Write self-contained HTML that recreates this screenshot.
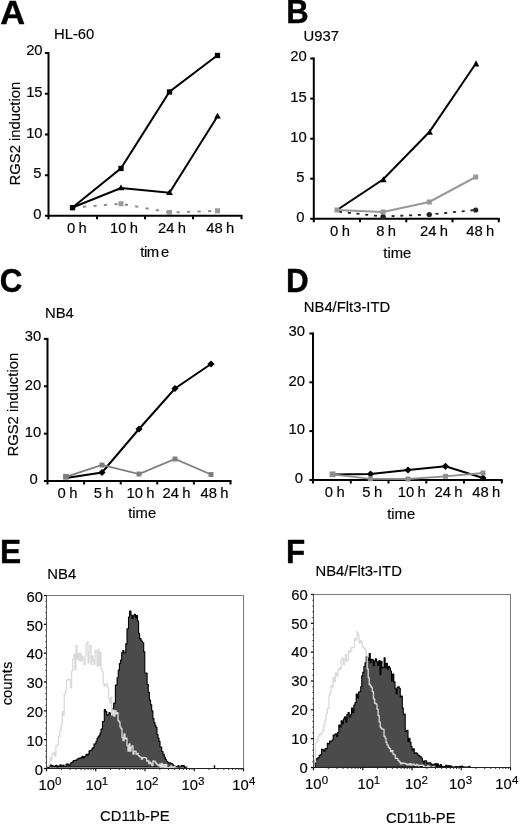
<!DOCTYPE html>
<html><head><meta charset="utf-8"><style>
html,body{margin:0;padding:0;background:#fff;width:520px;height:825px;overflow:hidden}
svg{display:block;font-family:"Liberation Sans",sans-serif;will-change:transform}
</style></head><body>
<svg width="520" height="825" viewBox="0 0 520 825">
<rect width="520" height="825" fill="#fff"/>
<text transform="translate(0.37,23.63) scale(1.03,1)" font-size="33.4" font-weight="bold" stroke="#000" stroke-width="0.4">A</text>
<text transform="translate(54.02,39.30)" font-size="14.8" text-anchor="start" fill="#000" stroke="#000" stroke-width="0.15">HL-60</text>
<line x1="48.50" y1="52.00" x2="48.50" y2="216.75" stroke="#000" stroke-width="2"/>
<line x1="44.90" y1="53.00" x2="48.50" y2="53.00" stroke="#000" stroke-width="2"/>
<text transform="translate(42.60,55.20)" font-size="14.8" text-anchor="end" fill="#000" stroke="#000" stroke-width="0.15">20</text>
<line x1="44.90" y1="93.75" x2="48.50" y2="93.75" stroke="#000" stroke-width="2"/>
<text transform="translate(42.60,96.95)" font-size="14.8" text-anchor="end" fill="#000" stroke="#000" stroke-width="0.15">15</text>
<line x1="44.90" y1="134.50" x2="48.50" y2="134.50" stroke="#000" stroke-width="2"/>
<text transform="translate(42.60,137.70)" font-size="14.8" text-anchor="end" fill="#000" stroke="#000" stroke-width="0.15">10</text>
<line x1="44.90" y1="175.25" x2="48.50" y2="175.25" stroke="#000" stroke-width="2"/>
<text transform="translate(41.60,178.45)" font-size="14.8" text-anchor="end" fill="#000" stroke="#000" stroke-width="0.15">5</text>
<line x1="44.90" y1="215.75" x2="48.50" y2="215.75" stroke="#000" stroke-width="2"/>
<text transform="translate(41.60,218.95)" font-size="14.8" text-anchor="end" fill="#000" stroke="#000" stroke-width="0.15">0</text>
<line x1="47.50" y1="215.75" x2="242.50" y2="215.75" stroke="#000" stroke-width="2"/>
<line x1="48.50" y1="215.75" x2="48.50" y2="219.25" stroke="#000" stroke-width="2"/>
<line x1="97.00" y1="215.75" x2="97.00" y2="219.25" stroke="#000" stroke-width="2"/>
<line x1="145.00" y1="215.75" x2="145.00" y2="219.25" stroke="#000" stroke-width="2"/>
<line x1="193.00" y1="215.75" x2="193.00" y2="219.25" stroke="#000" stroke-width="2"/>
<line x1="241.50" y1="215.75" x2="241.50" y2="219.25" stroke="#000" stroke-width="2"/>
<text transform="translate(76.80,233.00)" font-size="14.8" text-anchor="middle" fill="#000" stroke="#000" stroke-width="0.15" word-spacing="-0.8">0 h</text>
<text transform="translate(124.00,233.00)" font-size="14.8" text-anchor="middle" fill="#000" stroke="#000" stroke-width="0.15" word-spacing="-0.8">10 h</text>
<text transform="translate(171.90,233.00)" font-size="14.8" text-anchor="middle" fill="#000" stroke="#000" stroke-width="0.15" word-spacing="-0.8">24 h</text>
<text transform="translate(220.30,233.00)" font-size="14.8" text-anchor="middle" fill="#000" stroke="#000" stroke-width="0.15" word-spacing="-0.8">48 h</text>
<text transform="translate(154.60,257.30)" font-size="14.8" text-anchor="middle" fill="#000" stroke="#000" stroke-width="0.15" letter-spacing="-0.4" word-spacing="-1.4">tim e</text>
<text transform="translate(20.30,133.60) rotate(-90)" font-size="14.8" text-anchor="middle" fill="#000" stroke="#000" stroke-width="0.15">RGS2 induction</text>
<polyline points="72.50,207.50 121.00,203.75 169.50,212.50 217.50,210.80" fill="none" stroke="#8c8c8c" stroke-width="2" stroke-linejoin="miter" stroke-dasharray="3.2,7.3" stroke-dashoffset="0"/>
<rect x="118.50" y="201.25" width="5" height="5" fill="#999"/>
<rect x="167.00" y="210.00" width="5" height="5" fill="#999"/>
<rect x="215.00" y="208.30" width="5" height="5" fill="#999"/>
<polyline points="72.50,207.50 121.00,168.25 169.50,91.75 217.50,55.25" fill="none" stroke="#000" stroke-width="2" stroke-linejoin="miter"/>
<polyline points="72.50,207.50 121.00,188.00 169.50,192.75 217.50,116.25" fill="none" stroke="#000" stroke-width="2" stroke-linejoin="miter"/>
<rect x="69.85" y="205.05" width="5.3" height="5.3" fill="#000"/>
<rect x="118.35" y="165.80" width="5.3" height="5.3" fill="#000"/>
<rect x="166.85" y="89.30" width="5.3" height="5.3" fill="#000"/>
<rect x="214.85" y="52.80" width="5.3" height="5.3" fill="#000"/>
<polygon points="121.00,184.45 124.40,190.37 117.60,190.37" fill="#000"/>
<polygon points="169.50,189.20 172.90,195.12 166.10,195.12" fill="#000"/>
<polygon points="217.50,112.70 220.90,118.62 214.10,118.62" fill="#000"/>
<text transform="translate(286.13,22.90) scale(0.93,1)" font-size="33.4" font-weight="bold" stroke="#000" stroke-width="0.4">B</text>
<text transform="translate(303.62,41.30)" font-size="14.8" text-anchor="start" fill="#000" stroke="#000" stroke-width="0.15">U937</text>
<line x1="313.80" y1="57.50" x2="313.80" y2="219.80" stroke="#000" stroke-width="2"/>
<line x1="310.20" y1="58.50" x2="313.80" y2="58.50" stroke="#000" stroke-width="2"/>
<text transform="translate(306.80,60.70)" font-size="14.8" text-anchor="end" fill="#000" stroke="#000" stroke-width="0.15">20</text>
<line x1="310.20" y1="98.60" x2="313.80" y2="98.60" stroke="#000" stroke-width="2"/>
<text transform="translate(306.80,101.80)" font-size="14.8" text-anchor="end" fill="#000" stroke="#000" stroke-width="0.15">15</text>
<line x1="310.20" y1="138.70" x2="313.80" y2="138.70" stroke="#000" stroke-width="2"/>
<text transform="translate(306.80,141.90)" font-size="14.8" text-anchor="end" fill="#000" stroke="#000" stroke-width="0.15">10</text>
<line x1="310.20" y1="178.70" x2="313.80" y2="178.70" stroke="#000" stroke-width="2"/>
<text transform="translate(304.40,181.90)" font-size="14.8" text-anchor="end" fill="#000" stroke="#000" stroke-width="0.15">5</text>
<line x1="310.20" y1="218.80" x2="313.80" y2="218.80" stroke="#000" stroke-width="2"/>
<text transform="translate(304.40,222.00)" font-size="14.8" text-anchor="end" fill="#000" stroke="#000" stroke-width="0.15">0</text>
<line x1="312.80" y1="218.80" x2="499.80" y2="218.80" stroke="#000" stroke-width="2"/>
<line x1="313.80" y1="218.80" x2="313.80" y2="222.30" stroke="#000" stroke-width="2"/>
<line x1="360.00" y1="218.80" x2="360.00" y2="222.30" stroke="#000" stroke-width="2"/>
<line x1="406.30" y1="218.80" x2="406.30" y2="222.30" stroke="#000" stroke-width="2"/>
<line x1="452.50" y1="218.80" x2="452.50" y2="222.30" stroke="#000" stroke-width="2"/>
<line x1="498.80" y1="218.80" x2="498.80" y2="222.30" stroke="#000" stroke-width="2"/>
<text transform="translate(340.00,236.00)" font-size="14.8" text-anchor="middle" fill="#000" stroke="#000" stroke-width="0.15" word-spacing="-0.8">0 h</text>
<text transform="translate(386.20,236.00)" font-size="14.8" text-anchor="middle" fill="#000" stroke="#000" stroke-width="0.15" word-spacing="-0.8">8 h</text>
<text transform="translate(434.10,236.00)" font-size="14.8" text-anchor="middle" fill="#000" stroke="#000" stroke-width="0.15" word-spacing="-0.8">24 h</text>
<text transform="translate(480.20,236.00)" font-size="14.8" text-anchor="middle" fill="#000" stroke="#000" stroke-width="0.15" word-spacing="-0.8">48 h</text>
<text transform="translate(397.30,257.50)" font-size="14.8" text-anchor="middle" fill="#000" stroke="#000" stroke-width="0.15">time</text>
<polyline points="337.00,211.50 383.00,216.50 429.30,214.50 475.70,210.00" fill="none" stroke="#222" stroke-width="1.8" stroke-linejoin="miter" stroke-dasharray="3,5.8" stroke-dashoffset="-2"/>
<circle cx="383.00" cy="216.50" r="2.6" fill="#222"/>
<circle cx="429.30" cy="214.50" r="2.6" fill="#222"/>
<circle cx="475.70" cy="210.00" r="2.6" fill="#222"/>
<polyline points="337.00,210.00 383.00,179.50 429.30,132.00 475.70,63.70" fill="none" stroke="#000" stroke-width="2" stroke-linejoin="miter"/>
<polygon points="383.40,176.15 386.60,182.23 380.20,182.23" fill="#000"/>
<polygon points="429.70,128.65 432.90,134.73 426.50,134.73" fill="#000"/>
<polygon points="476.10,60.35 479.30,66.43 472.90,66.43" fill="#000"/>
<polyline points="337.00,210.00 383.00,212.00 429.30,202.00 475.70,177.00" fill="none" stroke="#999" stroke-width="2" stroke-linejoin="miter"/>
<rect x="334.50" y="207.50" width="5" height="5" fill="#999"/>
<rect x="380.50" y="209.50" width="5" height="5" fill="#999"/>
<rect x="426.80" y="199.50" width="5" height="5" fill="#999"/>
<rect x="473.20" y="174.50" width="5" height="5" fill="#999"/>
<text transform="translate(-0.26,292.17) scale(0.94,1)" font-size="33.4" font-weight="bold" stroke="#000" stroke-width="0.4">C</text>
<text transform="translate(45.02,318.00)" font-size="14.8" text-anchor="start" fill="#000" stroke="#000" stroke-width="0.15">NB4</text>
<line x1="47.50" y1="337.90" x2="47.50" y2="482.00" stroke="#000" stroke-width="2"/>
<line x1="43.90" y1="338.90" x2="47.50" y2="338.90" stroke="#000" stroke-width="2"/>
<text transform="translate(41.20,341.10)" font-size="14.8" text-anchor="end" fill="#000" stroke="#000" stroke-width="0.15">30</text>
<line x1="43.90" y1="386.30" x2="47.50" y2="386.30" stroke="#000" stroke-width="2"/>
<text transform="translate(41.20,389.50)" font-size="14.8" text-anchor="end" fill="#000" stroke="#000" stroke-width="0.15">20</text>
<line x1="43.90" y1="433.70" x2="47.50" y2="433.70" stroke="#000" stroke-width="2"/>
<text transform="translate(41.20,436.90)" font-size="14.8" text-anchor="end" fill="#000" stroke="#000" stroke-width="0.15">10</text>
<line x1="43.90" y1="481.00" x2="47.50" y2="481.00" stroke="#000" stroke-width="2"/>
<text transform="translate(37.80,484.20)" font-size="14.8" text-anchor="end" fill="#000" stroke="#000" stroke-width="0.15">0</text>
<line x1="46.50" y1="481.00" x2="231.50" y2="481.00" stroke="#000" stroke-width="2"/>
<line x1="47.50" y1="481.00" x2="47.50" y2="484.50" stroke="#000" stroke-width="2"/>
<line x1="84.10" y1="481.00" x2="84.10" y2="484.50" stroke="#000" stroke-width="2"/>
<line x1="120.70" y1="481.00" x2="120.70" y2="484.50" stroke="#000" stroke-width="2"/>
<line x1="157.30" y1="481.00" x2="157.30" y2="484.50" stroke="#000" stroke-width="2"/>
<line x1="193.90" y1="481.00" x2="193.90" y2="484.50" stroke="#000" stroke-width="2"/>
<line x1="230.50" y1="481.00" x2="230.50" y2="484.50" stroke="#000" stroke-width="2"/>
<text transform="translate(67.50,497.80)" font-size="14.8" text-anchor="middle" fill="#000" stroke="#000" stroke-width="0.15" word-spacing="-0.8">0 h</text>
<text transform="translate(103.70,497.80)" font-size="14.8" text-anchor="middle" fill="#000" stroke="#000" stroke-width="0.15" word-spacing="-0.8">5 h</text>
<text transform="translate(140.50,497.80)" font-size="14.8" text-anchor="middle" fill="#000" stroke="#000" stroke-width="0.15" word-spacing="-0.8">10 h</text>
<text transform="translate(176.60,497.80)" font-size="14.8" text-anchor="middle" fill="#000" stroke="#000" stroke-width="0.15" word-spacing="-0.8">24 h</text>
<text transform="translate(214.40,497.80)" font-size="14.8" text-anchor="middle" fill="#000" stroke="#000" stroke-width="0.15" word-spacing="-0.8">48 h</text>
<text transform="translate(142.20,517.50)" font-size="14.8" text-anchor="middle" fill="#000" stroke="#000" stroke-width="0.15">time</text>
<text transform="translate(17.50,404.70) rotate(-90)" font-size="14.8" text-anchor="middle" fill="#000" stroke="#000" stroke-width="0.15">RGS2 induction</text>
<polyline points="66.00,478.00 102.00,472.50 139.00,429.00 175.00,388.50 211.00,364.00" fill="none" stroke="#000" stroke-width="2" stroke-linejoin="miter"/>
<polygon points="102.00,468.90 105.60,472.50 102.00,476.10 98.40,472.50" fill="#000"/>
<polygon points="139.00,425.40 142.60,429.00 139.00,432.60 135.40,429.00" fill="#000"/>
<polygon points="175.00,384.90 178.60,388.50 175.00,392.10 171.40,388.50" fill="#000"/>
<polygon points="211.00,360.40 214.60,364.00 211.00,367.60 207.40,364.00" fill="#000"/>
<polyline points="66.00,476.80 102.00,465.00 139.00,474.00 175.00,459.00 211.00,474.50" fill="none" stroke="#7d7d7d" stroke-width="1.8" stroke-linejoin="miter"/>
<rect x="63.10" y="473.90" width="5.8" height="5.8" fill="#7d7d7d"/>
<rect x="99.55" y="462.55" width="4.9" height="4.9" fill="#7d7d7d"/>
<rect x="136.55" y="471.55" width="4.9" height="4.9" fill="#7d7d7d"/>
<rect x="172.55" y="456.55" width="4.9" height="4.9" fill="#7d7d7d"/>
<rect x="208.55" y="472.05" width="4.9" height="4.9" fill="#7d7d7d"/>
<text transform="translate(286.10,291.60) scale(0.94,1)" font-size="33.4" font-weight="bold" stroke="#000" stroke-width="0.4">D</text>
<text transform="translate(303.82,312.00)" font-size="14.8" text-anchor="start" fill="#000" stroke="#000" stroke-width="0.15">NB4/Flt3-ITD</text>
<line x1="313.00" y1="332.50" x2="313.00" y2="481.00" stroke="#000" stroke-width="2"/>
<line x1="309.40" y1="333.50" x2="313.00" y2="333.50" stroke="#000" stroke-width="2"/>
<text transform="translate(305.00,335.70)" font-size="14.8" text-anchor="end" fill="#000" stroke="#000" stroke-width="0.15">30</text>
<line x1="309.40" y1="382.30" x2="313.00" y2="382.30" stroke="#000" stroke-width="2"/>
<text transform="translate(305.00,385.50)" font-size="14.8" text-anchor="end" fill="#000" stroke="#000" stroke-width="0.15">20</text>
<line x1="309.40" y1="431.10" x2="313.00" y2="431.10" stroke="#000" stroke-width="2"/>
<text transform="translate(305.00,434.30)" font-size="14.8" text-anchor="end" fill="#000" stroke="#000" stroke-width="0.15">10</text>
<line x1="309.40" y1="480.00" x2="313.00" y2="480.00" stroke="#000" stroke-width="2"/>
<text transform="translate(302.90,483.20)" font-size="14.8" text-anchor="end" fill="#000" stroke="#000" stroke-width="0.15">0</text>
<line x1="312.00" y1="480.00" x2="502.80" y2="480.00" stroke="#000" stroke-width="2"/>
<line x1="313.00" y1="480.00" x2="313.00" y2="483.50" stroke="#000" stroke-width="2"/>
<line x1="350.80" y1="480.00" x2="350.80" y2="483.50" stroke="#000" stroke-width="2"/>
<line x1="388.50" y1="480.00" x2="388.50" y2="483.50" stroke="#000" stroke-width="2"/>
<line x1="426.30" y1="480.00" x2="426.30" y2="483.50" stroke="#000" stroke-width="2"/>
<line x1="464.00" y1="480.00" x2="464.00" y2="483.50" stroke="#000" stroke-width="2"/>
<line x1="501.80" y1="480.00" x2="501.80" y2="483.50" stroke="#000" stroke-width="2"/>
<text transform="translate(334.75,497.00)" font-size="14.8" text-anchor="middle" fill="#000" stroke="#000" stroke-width="0.15" word-spacing="-0.8">0 h</text>
<text transform="translate(372.25,497.00)" font-size="14.8" text-anchor="middle" fill="#000" stroke="#000" stroke-width="0.15" word-spacing="-0.8">5 h</text>
<text transform="translate(411.75,497.00)" font-size="14.8" text-anchor="middle" fill="#000" stroke="#000" stroke-width="0.15" word-spacing="-0.8">10 h</text>
<text transform="translate(448.50,497.00)" font-size="14.8" text-anchor="middle" fill="#000" stroke="#000" stroke-width="0.15" word-spacing="-0.8">24 h</text>
<text transform="translate(486.25,497.00)" font-size="14.8" text-anchor="middle" fill="#000" stroke="#000" stroke-width="0.15" word-spacing="-0.8">48 h</text>
<text transform="translate(401.20,518.70)" font-size="14.8" text-anchor="middle" fill="#000" stroke="#000" stroke-width="0.15">time</text>
<polyline points="332.50,474.50 370.50,474.00 408.00,470.00 445.50,466.30 483.00,478.00" fill="none" stroke="#000" stroke-width="2" stroke-linejoin="miter"/>
<polygon points="370.50,470.40 374.10,474.00 370.50,477.60 366.90,474.00" fill="#000"/>
<polygon points="408.00,466.40 411.60,470.00 408.00,473.60 404.40,470.00" fill="#000"/>
<polygon points="445.50,462.70 449.10,466.30 445.50,469.90 441.90,466.30" fill="#000"/>
<polygon points="483.00,474.40 486.60,478.00 483.00,481.60 479.40,478.00" fill="#000"/>
<polyline points="332.50,474.30 370.50,478.80 408.00,479.00 445.50,476.30 483.00,473.00" fill="none" stroke="#8e8e8e" stroke-width="1.8" stroke-linejoin="miter"/>
<rect x="329.60" y="471.40" width="5.8" height="5.8" fill="#8e8e8e"/>
<rect x="368.05" y="476.35" width="4.9" height="4.9" fill="#8e8e8e"/>
<rect x="405.55" y="476.55" width="4.9" height="4.9" fill="#8e8e8e"/>
<rect x="443.05" y="473.85" width="4.9" height="4.9" fill="#8e8e8e"/>
<rect x="480.55" y="470.55" width="4.9" height="4.9" fill="#8e8e8e"/>
<polygon points="47.00,767.05 48.00,767.05 48.00,767.40 49.00,767.40 49.00,765.69 50.00,765.69 50.00,764.61 51.00,764.61 51.00,765.49 52.00,765.49 52.00,765.62 53.00,765.62 53.00,766.39 54.00,766.39 54.00,767.00 55.00,767.00 55.00,765.44 56.00,765.44 56.00,765.19 57.00,765.19 57.00,767.21 58.00,767.21 58.00,766.08 59.00,766.08 59.00,766.85 60.00,766.85 60.00,764.79 61.00,764.79 61.00,765.86 62.00,765.86 62.00,766.48 63.00,766.48 63.00,765.09 64.00,765.09 64.00,766.86 65.00,766.86 65.00,766.64 66.00,766.64 66.00,764.28 67.00,764.28 67.00,763.89 68.00,763.89 68.00,764.86 69.00,764.86 69.00,765.52 70.00,765.52 70.00,763.69 71.00,763.69 71.00,762.56 72.00,762.56 72.00,762.40 73.00,762.40 73.00,760.68 74.00,760.68 74.00,760.48 75.00,760.48 75.00,760.34 76.00,760.34 76.00,760.09 77.00,760.09 77.00,759.01 78.00,759.01 78.00,758.60 79.00,758.60 79.00,758.17 80.00,758.17 80.00,758.39 81.00,758.39 81.00,757.45 82.00,757.45 82.00,756.26 83.00,756.26 83.00,757.88 84.00,757.88 84.00,756.65 85.00,756.65 85.00,756.37 86.00,756.37 86.00,754.18 87.00,754.18 87.00,755.31 88.00,755.31 88.00,753.99 89.00,753.99 89.00,750.92 90.00,750.92 90.00,750.51 91.00,750.51 91.00,750.01 92.00,750.01 92.00,748.34 93.00,748.34 93.00,747.45 94.00,747.45 94.00,743.98 95.00,743.98 95.00,743.68 96.00,743.68 96.00,741.38 97.00,741.38 97.00,738.25 98.00,738.25 98.00,736.85 99.00,736.85 99.00,735.57 100.00,735.57 100.00,732.97 101.00,732.97 101.00,729.02 102.50,729.02 102.50,721.43 104.30,721.43 104.30,709.55 105.53,709.55 105.53,711.66 106.77,711.66 106.77,715.54 108.00,715.54 108.00,714.56 109.00,714.56 109.00,712.56 110.00,712.56 110.00,713.75 111.00,713.75 111.00,713.81 112.00,713.81 112.00,712.92 113.00,712.92 113.00,708.32 113.70,708.32 113.70,703.16 115.40,703.16 115.40,685.05 117.10,685.05 117.10,677.68 118.25,677.68 118.25,670.15 119.40,670.15 119.40,663.44 120.55,663.44 120.55,660.12 121.70,660.12 121.70,652.71 122.85,652.71 122.85,650.43 124.00,650.43 124.00,653.04 125.80,653.04 125.80,643.83 127.00,643.83 127.00,628.77 128.50,628.77 128.50,617.09 129.50,617.09 129.50,611.13 131.00,611.13 131.00,615.02 132.00,615.02 132.00,618.44 133.00,618.44 133.00,615.86 134.25,615.86 134.25,614.34 135.50,614.34 135.50,617.63 136.50,617.63 136.50,615.45 137.50,615.45 137.50,621.12 138.55,621.12 138.55,633.23 139.60,633.23 139.60,638.62 141.05,638.62 141.05,640.98 142.50,640.98 142.50,642.80 143.70,642.80 143.70,651.86 144.80,651.86 144.80,673.18 145.95,673.18 145.95,673.03 147.10,673.03 147.10,684.54 148.25,684.54 148.25,692.19 149.40,692.19 149.40,699.97 150.55,699.97 150.55,704.81 151.70,704.81 151.70,710.87 152.90,710.87 152.90,718.59 153.95,718.59 153.95,722.54 155.00,722.54 155.00,725.66 156.00,725.66 156.00,727.56 157.00,727.56 157.00,734.54 158.00,734.54 158.00,737.94 159.00,737.94 159.00,741.26 160.00,741.26 160.00,747.02 161.70,747.02 161.70,751.46 163.00,751.46 163.00,754.23 164.30,754.23 164.30,757.30 165.40,757.30 165.40,759.45 166.50,759.45 166.50,761.32 167.53,761.32 167.53,762.29 168.57,762.29 168.57,762.89 169.60,762.89 169.60,762.77 170.68,762.77 170.68,763.60 171.76,763.60 171.76,763.76 172.84,763.76 172.84,765.12 173.92,765.12 173.92,766.14 175.00,766.14 175.00,766.28 176.00,766.28 176.00,766.47 177.00,766.47 177.00,766.72 178.00,766.72 178.00,765.46 179.00,765.46 179.00,767.19 180.00,767.19 180.00,766.95 181.10,766.95 181.10,765.59 182.20,765.59 182.20,765.59 183.30,765.59 183.30,765.76 184.40,765.76 184.40,767.86 185.70,767.86 185.70,766.95 187.00,766.95 187.00,766.98" fill="#4b4b4b" stroke="#000" stroke-width="1.1" stroke-linejoin="round"/>
<polyline points="47.50,766.23 49.00,766.23 49.00,764.71 50.00,764.71 50.00,757.88 51.00,757.88 51.00,760.14 52.00,760.14 52.00,753.76 53.30,753.76 53.30,752.15 54.60,752.15 54.60,756.38 55.90,756.38 55.90,746.05 57.20,746.05 57.20,744.65 58.50,744.65 58.50,736.47 59.85,736.47 59.85,729.84 61.20,729.84 61.20,723.92 62.20,723.92 62.20,711.57 63.20,711.57 63.20,715.18 64.20,715.18 64.20,694.30 65.35,694.30 65.35,690.79 66.50,690.79 66.50,680.22 68.00,680.22 68.00,679.07 69.20,679.07 69.20,679.52 70.40,679.52 70.40,687.75 71.55,687.75 71.55,670.79 72.70,670.79 72.70,659.09 74.00,659.09 74.00,654.21 75.00,654.21 75.00,669.89 76.00,669.89 76.00,645.34 77.00,645.34 77.00,659.18 78.00,659.18 78.00,653.51 79.00,653.51 79.00,660.66 80.00,660.66 80.00,653.08 81.00,653.08 81.00,661.16 82.00,661.16 82.00,655.94 83.00,655.94 83.00,659.16 84.00,659.16 84.00,664.84 85.00,664.84 85.00,656.25 86.00,656.25 86.00,644.67 87.00,644.67 87.00,641.97 88.00,641.97 88.00,663.07 89.00,663.07 89.00,652.22 90.00,652.22 90.00,645.43 91.00,645.43 91.00,664.50 92.00,664.50 92.00,655.94 93.00,655.94 93.00,660.12 94.00,660.12 94.00,664.33 95.00,664.33 95.00,650.26 96.00,650.26 96.00,652.50 97.00,652.50 97.00,666.18 98.00,666.18 98.00,649.17 99.00,649.17 99.00,665.36 100.00,665.36 100.00,652.10 101.00,652.10 101.00,668.80 102.00,668.80 102.00,671.68 103.10,671.68 103.10,683.11 104.20,683.11 104.20,686.47 105.35,686.47 105.35,684.58 106.50,684.58 106.50,683.84 107.53,683.84 107.53,687.40 108.57,687.40 108.57,699.22 109.60,699.22 109.60,703.18 110.63,703.18 110.63,697.50 111.67,697.50 111.67,714.90 112.70,714.90 112.70,710.13 113.80,710.13 113.80,716.13 114.90,716.13 114.90,710.64 116.00,710.64 116.00,713.81 117.00,713.81 117.00,712.72 118.00,712.72 118.00,720.57 119.00,720.57 119.00,721.98 120.00,721.98 120.00,726.88 121.00,726.88 121.00,728.76 122.00,728.76 122.00,737.58 123.00,737.58 123.00,740.67 124.00,740.67 124.00,733.87 125.00,733.87 125.00,738.73 126.00,738.73 126.00,738.05 127.00,738.05 127.00,745.86 128.00,745.86 128.00,751.18 129.00,751.18 129.00,743.97 130.00,743.97 130.00,751.04 131.00,751.04 131.00,747.42 132.00,747.42 132.00,745.83 133.00,745.83 133.00,754.20 134.00,754.20 134.00,751.42 135.00,751.42 135.00,751.11 136.06,751.11 136.06,754.20 137.12,754.20 137.12,753.28 138.19,753.28 138.19,755.53 139.25,755.53 139.25,756.58 140.31,756.58 140.31,757.13 141.38,757.13 141.38,759.14 142.44,759.14 142.44,757.77 143.50,757.77 143.50,757.28 144.55,757.28 144.55,757.64 145.59,757.64 145.59,758.20 146.64,758.20 146.64,761.22 147.68,761.22 147.68,760.60 148.73,760.60 148.73,763.65 149.77,763.65 149.77,762.21 150.82,762.21 150.82,763.71 151.86,763.71 151.86,765.52 152.91,765.52 152.91,760.97 153.95,760.97 153.95,761.19 155.00,761.19 155.00,762.25 156.07,762.25 156.07,763.68 157.13,763.68 157.13,764.79 158.20,764.79 158.20,765.76 159.27,765.76 159.27,764.24 160.33,764.24 160.33,767.08 161.40,767.08 161.40,763.30 162.47,763.30 162.47,766.88 163.53,766.88 163.53,764.68 164.60,764.68 164.60,767.36 165.64,767.36 165.64,764.50 166.68,764.50 166.68,767.89 167.72,767.89 167.72,767.30 168.76,767.30 168.76,768.15 169.80,768.15 169.80,766.99 170.84,766.99 170.84,765.96 171.88,765.96 171.88,768.35 172.92,768.35 172.92,767.05 173.96,767.05 173.96,766.32 175.00,766.32 175.00,767.74" fill="none" stroke="#dadada" stroke-width="1.3" stroke-linejoin="round"/>
<rect x="46.50" y="595.50" width="197.00" height="173.00" fill="none" stroke="#7a7a7a" stroke-width="1"/>
<line x1="46.50" y1="768.50" x2="243.50" y2="768.50" stroke="#222" stroke-width="1.0"/>
<line x1="46.50" y1="595.50" x2="46.50" y2="768.50" stroke="#555" stroke-width="1.0"/>
<line x1="43.90" y1="768.50" x2="46.50" y2="768.50" stroke="#111" stroke-width="1.3"/>
<text transform="translate(42.90,774.70)" font-size="14.8" text-anchor="end" fill="#000" stroke="#000" stroke-width="0.15">0</text>
<line x1="45.30" y1="762.73" x2="46.50" y2="762.73" stroke="#333" stroke-width="1.0"/>
<line x1="45.30" y1="756.97" x2="46.50" y2="756.97" stroke="#333" stroke-width="1.0"/>
<line x1="45.30" y1="751.20" x2="46.50" y2="751.20" stroke="#333" stroke-width="1.0"/>
<line x1="45.30" y1="745.43" x2="46.50" y2="745.43" stroke="#333" stroke-width="1.0"/>
<line x1="43.90" y1="739.67" x2="46.50" y2="739.67" stroke="#111" stroke-width="1.3"/>
<text transform="translate(42.90,745.87)" font-size="14.8" text-anchor="end" fill="#000" stroke="#000" stroke-width="0.15">10</text>
<line x1="45.30" y1="733.90" x2="46.50" y2="733.90" stroke="#333" stroke-width="1.0"/>
<line x1="45.30" y1="728.13" x2="46.50" y2="728.13" stroke="#333" stroke-width="1.0"/>
<line x1="45.30" y1="722.37" x2="46.50" y2="722.37" stroke="#333" stroke-width="1.0"/>
<line x1="45.30" y1="716.60" x2="46.50" y2="716.60" stroke="#333" stroke-width="1.0"/>
<line x1="43.90" y1="710.83" x2="46.50" y2="710.83" stroke="#111" stroke-width="1.3"/>
<text transform="translate(42.90,717.03)" font-size="14.8" text-anchor="end" fill="#000" stroke="#000" stroke-width="0.15">20</text>
<line x1="45.30" y1="705.07" x2="46.50" y2="705.07" stroke="#333" stroke-width="1.0"/>
<line x1="45.30" y1="699.30" x2="46.50" y2="699.30" stroke="#333" stroke-width="1.0"/>
<line x1="45.30" y1="693.53" x2="46.50" y2="693.53" stroke="#333" stroke-width="1.0"/>
<line x1="45.30" y1="687.77" x2="46.50" y2="687.77" stroke="#333" stroke-width="1.0"/>
<line x1="43.90" y1="682.00" x2="46.50" y2="682.00" stroke="#111" stroke-width="1.3"/>
<text transform="translate(42.90,688.20)" font-size="14.8" text-anchor="end" fill="#000" stroke="#000" stroke-width="0.15">30</text>
<line x1="45.30" y1="676.23" x2="46.50" y2="676.23" stroke="#333" stroke-width="1.0"/>
<line x1="45.30" y1="670.47" x2="46.50" y2="670.47" stroke="#333" stroke-width="1.0"/>
<line x1="45.30" y1="664.70" x2="46.50" y2="664.70" stroke="#333" stroke-width="1.0"/>
<line x1="45.30" y1="658.93" x2="46.50" y2="658.93" stroke="#333" stroke-width="1.0"/>
<line x1="43.90" y1="653.17" x2="46.50" y2="653.17" stroke="#111" stroke-width="1.3"/>
<text transform="translate(42.90,659.37)" font-size="14.8" text-anchor="end" fill="#000" stroke="#000" stroke-width="0.15">40</text>
<line x1="45.30" y1="647.40" x2="46.50" y2="647.40" stroke="#333" stroke-width="1.0"/>
<line x1="45.30" y1="641.63" x2="46.50" y2="641.63" stroke="#333" stroke-width="1.0"/>
<line x1="45.30" y1="635.87" x2="46.50" y2="635.87" stroke="#333" stroke-width="1.0"/>
<line x1="45.30" y1="630.10" x2="46.50" y2="630.10" stroke="#333" stroke-width="1.0"/>
<line x1="43.90" y1="624.33" x2="46.50" y2="624.33" stroke="#111" stroke-width="1.3"/>
<text transform="translate(42.90,630.53)" font-size="14.8" text-anchor="end" fill="#000" stroke="#000" stroke-width="0.15">50</text>
<line x1="45.30" y1="618.57" x2="46.50" y2="618.57" stroke="#333" stroke-width="1.0"/>
<line x1="45.30" y1="612.80" x2="46.50" y2="612.80" stroke="#333" stroke-width="1.0"/>
<line x1="45.30" y1="607.03" x2="46.50" y2="607.03" stroke="#333" stroke-width="1.0"/>
<line x1="45.30" y1="601.27" x2="46.50" y2="601.27" stroke="#333" stroke-width="1.0"/>
<line x1="43.90" y1="595.50" x2="46.50" y2="595.50" stroke="#111" stroke-width="1.3"/>
<text transform="translate(42.90,601.70)" font-size="14.8" text-anchor="end" fill="#000" stroke="#000" stroke-width="0.15">60</text>
<line x1="46.50" y1="768.50" x2="46.50" y2="771.30" stroke="#111" stroke-width="1.2"/>
<text transform="translate(38.52,789.50)" font-size="14.8" text-anchor="start" fill="#000" stroke="#000" stroke-width="0.15">10</text>
<text transform="translate(55.04,785.30)" font-size="11.5" text-anchor="start" fill="#000" stroke="#000" stroke-width="0.15">0</text>
<line x1="61.33" y1="768.50" x2="61.33" y2="770.00" stroke="#333" stroke-width="1.0"/>
<line x1="70.00" y1="768.50" x2="70.00" y2="770.00" stroke="#333" stroke-width="1.0"/>
<line x1="76.15" y1="768.50" x2="76.15" y2="770.00" stroke="#333" stroke-width="1.0"/>
<line x1="80.92" y1="768.50" x2="80.92" y2="770.00" stroke="#333" stroke-width="1.0"/>
<line x1="84.82" y1="768.50" x2="84.82" y2="770.00" stroke="#333" stroke-width="1.0"/>
<line x1="88.12" y1="768.50" x2="88.12" y2="770.00" stroke="#333" stroke-width="1.0"/>
<line x1="90.98" y1="768.50" x2="90.98" y2="770.00" stroke="#333" stroke-width="1.0"/>
<line x1="93.50" y1="768.50" x2="93.50" y2="770.00" stroke="#333" stroke-width="1.0"/>
<line x1="95.75" y1="768.50" x2="95.75" y2="771.30" stroke="#111" stroke-width="1.2"/>
<text transform="translate(85.62,789.50)" font-size="14.8" text-anchor="start" fill="#000" stroke="#000" stroke-width="0.15">10</text>
<text transform="translate(101.68,785.30)" font-size="11.5" text-anchor="start" fill="#000" stroke="#000" stroke-width="0.15">1</text>
<line x1="110.58" y1="768.50" x2="110.58" y2="770.00" stroke="#333" stroke-width="1.0"/>
<line x1="119.25" y1="768.50" x2="119.25" y2="770.00" stroke="#333" stroke-width="1.0"/>
<line x1="125.40" y1="768.50" x2="125.40" y2="770.00" stroke="#333" stroke-width="1.0"/>
<line x1="130.17" y1="768.50" x2="130.17" y2="770.00" stroke="#333" stroke-width="1.0"/>
<line x1="134.07" y1="768.50" x2="134.07" y2="770.00" stroke="#333" stroke-width="1.0"/>
<line x1="137.37" y1="768.50" x2="137.37" y2="770.00" stroke="#333" stroke-width="1.0"/>
<line x1="140.23" y1="768.50" x2="140.23" y2="770.00" stroke="#333" stroke-width="1.0"/>
<line x1="142.75" y1="768.50" x2="142.75" y2="770.00" stroke="#333" stroke-width="1.0"/>
<line x1="145.00" y1="768.50" x2="145.00" y2="771.30" stroke="#111" stroke-width="1.2"/>
<text transform="translate(135.62,789.50)" font-size="14.8" text-anchor="start" fill="#000" stroke="#000" stroke-width="0.15">10</text>
<text transform="translate(152.03,785.30)" font-size="11.5" text-anchor="start" fill="#000" stroke="#000" stroke-width="0.15">2</text>
<line x1="159.83" y1="768.50" x2="159.83" y2="770.00" stroke="#333" stroke-width="1.0"/>
<line x1="168.50" y1="768.50" x2="168.50" y2="770.00" stroke="#333" stroke-width="1.0"/>
<line x1="174.65" y1="768.50" x2="174.65" y2="770.00" stroke="#333" stroke-width="1.0"/>
<line x1="179.42" y1="768.50" x2="179.42" y2="770.00" stroke="#333" stroke-width="1.0"/>
<line x1="183.32" y1="768.50" x2="183.32" y2="770.00" stroke="#333" stroke-width="1.0"/>
<line x1="186.62" y1="768.50" x2="186.62" y2="770.00" stroke="#333" stroke-width="1.0"/>
<line x1="189.48" y1="768.50" x2="189.48" y2="770.00" stroke="#333" stroke-width="1.0"/>
<line x1="192.00" y1="768.50" x2="192.00" y2="770.00" stroke="#333" stroke-width="1.0"/>
<line x1="194.25" y1="768.50" x2="194.25" y2="771.30" stroke="#111" stroke-width="1.2"/>
<text transform="translate(181.42,789.50)" font-size="14.8" text-anchor="start" fill="#000" stroke="#000" stroke-width="0.15">10</text>
<text transform="translate(197.94,785.30)" font-size="11.5" text-anchor="start" fill="#000" stroke="#000" stroke-width="0.15">3</text>
<line x1="209.08" y1="768.50" x2="209.08" y2="770.00" stroke="#333" stroke-width="1.0"/>
<line x1="217.75" y1="768.50" x2="217.75" y2="770.00" stroke="#333" stroke-width="1.0"/>
<line x1="223.90" y1="768.50" x2="223.90" y2="770.00" stroke="#333" stroke-width="1.0"/>
<line x1="228.67" y1="768.50" x2="228.67" y2="770.00" stroke="#333" stroke-width="1.0"/>
<line x1="232.57" y1="768.50" x2="232.57" y2="770.00" stroke="#333" stroke-width="1.0"/>
<line x1="235.87" y1="768.50" x2="235.87" y2="770.00" stroke="#333" stroke-width="1.0"/>
<line x1="238.73" y1="768.50" x2="238.73" y2="770.00" stroke="#333" stroke-width="1.0"/>
<line x1="241.25" y1="768.50" x2="241.25" y2="770.00" stroke="#333" stroke-width="1.0"/>
<line x1="243.50" y1="768.50" x2="243.50" y2="771.30" stroke="#111" stroke-width="1.2"/>
<text transform="translate(232.32,789.50)" font-size="14.8" text-anchor="start" fill="#000" stroke="#000" stroke-width="0.15">10</text>
<text transform="translate(249.07,785.30)" font-size="11.5" text-anchor="start" fill="#000" stroke="#000" stroke-width="0.15">4</text>
<text transform="translate(-0.12,562.90) scale(0.95,1)" font-size="33.4" font-weight="bold" stroke="#000" stroke-width="0.4">E</text>
<text transform="translate(47.32,579.00)" font-size="14.8" text-anchor="start" fill="#000" stroke="#000" stroke-width="0.15">NB4</text>
<text transform="translate(12.10,683.50) rotate(-90)" font-size="14.8" text-anchor="middle" fill="#000" stroke="#000" stroke-width="0.15">counts</text>
<text transform="translate(100.06,821.20)" font-size="14.8" text-anchor="start" fill="#000" stroke="#000" stroke-width="0.15">CD11b-PE</text>
<polygon points="313.30,767.50 315.20,767.50 315.20,760.04 316.60,760.04 316.60,758.62 318.00,758.62 318.00,757.62 319.18,757.62 319.18,755.39 320.35,755.39 320.35,754.84 321.52,754.84 321.52,749.19 322.70,749.19 322.70,749.83 323.85,749.83 323.85,751.15 325.00,751.15 325.00,748.50 326.15,748.50 326.15,748.75 327.30,748.75 327.30,743.22 328.48,743.22 328.48,743.77 329.65,743.77 329.65,740.98 330.82,740.98 330.82,741.32 332.00,741.32 332.00,740.07 333.12,740.07 333.12,734.98 334.25,734.98 334.25,734.81 335.38,734.81 335.38,733.75 336.50,733.75 336.50,736.70 337.67,736.70 337.67,732.67 338.83,732.67 338.83,725.09 340.00,725.09 340.00,726.94 341.15,726.94 341.15,720.83 342.30,720.83 342.30,723.74 343.45,723.74 343.45,718.88 344.60,718.88 344.60,716.92 345.75,716.92 345.75,722.10 346.90,722.10 346.90,714.52 348.05,714.52 348.05,712.53 349.20,712.53 349.20,717.27 350.37,717.27 350.37,714.84 351.53,714.84 351.53,708.08 352.70,708.08 352.70,712.75 353.87,712.75 353.87,705.04 355.03,705.04 355.03,702.58 356.20,702.58 356.20,694.03 357.35,694.03 357.35,698.05 358.50,698.05 358.50,692.01 359.70,692.01 359.70,691.54 360.73,691.54 360.73,686.69 361.77,686.69 361.77,675.88 362.80,675.88 362.80,672.39 363.90,672.39 363.90,666.55 365.00,666.55 365.00,662.74 366.20,662.74 366.20,656.64 367.20,656.64 367.20,658.03 368.20,658.03 368.20,660.29 369.23,660.29 369.23,653.56 370.25,653.56 370.25,662.71 371.27,662.71 371.27,659.24 372.30,659.24 372.30,659.66 373.33,659.66 373.33,665.60 374.37,665.60 374.37,661.10 375.40,661.10 375.40,658.72 376.55,658.72 376.55,661.77 377.70,661.77 377.70,665.51 378.85,665.51 378.85,660.64 380.00,660.64 380.00,674.66 381.00,674.66 381.00,661.26 382.00,661.26 382.00,668.03 383.00,668.03 383.00,667.23 384.07,667.23 384.07,657.77 385.13,657.77 385.13,667.84 386.20,667.84 386.20,663.37 387.35,663.37 387.35,669.44 388.50,669.44 388.50,666.24 389.50,666.24 389.50,668.06 390.50,668.06 390.50,670.98 391.50,670.98 391.50,681.22 392.65,681.22 392.65,674.05 393.80,674.05 393.80,681.89 395.00,681.89 395.00,688.71 396.20,688.71 396.20,693.70 397.20,693.70 397.20,687.01 398.20,687.01 398.20,686.78 399.20,686.78 399.20,688.26 400.25,688.26 400.25,696.84 401.30,696.84 401.30,696.14 402.30,696.14 402.30,708.09 403.30,708.09 403.30,714.17 405.20,714.17 405.20,731.49 406.60,731.49 406.60,730.41 408.00,730.41 408.00,741.38 409.00,741.38 409.00,738.34 410.00,738.34 410.00,742.31 411.00,742.31 411.00,746.25 412.00,746.25 412.00,750.22 413.14,750.22 413.14,748.75 414.28,748.75 414.28,753.18 415.42,753.18 415.42,752.89 416.56,752.89 416.56,753.42 417.70,753.42 417.70,755.05 418.86,755.05 418.86,755.68 420.02,755.68 420.02,756.53 421.18,756.53 421.18,758.01 422.34,758.01 422.34,760.97 423.50,760.97 423.50,762.96 424.56,762.96 424.56,760.85 425.61,760.85 425.61,760.89 426.67,760.89 426.67,763.78 427.72,763.78 427.72,762.88 428.78,762.88 428.78,762.87 429.83,762.87 429.83,762.75 430.89,762.75 430.89,764.00 431.94,764.00 431.94,764.93 433.00,764.93 433.00,764.28 434.05,764.28 434.05,764.37 435.11,764.37 435.11,763.59 436.16,763.59 436.16,766.00 437.22,766.00 437.22,763.88 438.27,763.88 438.27,765.25 439.33,765.25 439.33,766.32 440.38,766.32 440.38,764.65 441.44,764.65 441.44,766.38 442.49,766.38 442.49,767.12 443.55,767.12 443.55,766.47 444.60,766.47 444.60,767.05 445.67,767.05 445.67,765.30 446.73,765.30 446.73,766.17 447.80,766.17 447.80,765.45 448.87,765.45 448.87,767.29 449.93,767.29 449.93,765.88 451.00,765.88 451.00,766.31 452.07,766.31 452.07,767.50 453.13,767.50 453.13,767.39 454.20,767.39 454.20,767.50 455.25,767.50 455.25,766.45 456.31,766.45 456.31,766.60 457.36,766.60 457.36,767.30 458.41,767.30 458.41,766.71 459.47,766.71 459.47,766.29 460.52,766.29 460.52,766.65 461.57,766.65 461.57,766.05 462.63,766.05 462.63,766.71 463.68,766.71 463.68,767.50 464.73,767.50 464.73,767.50 465.79,767.50 465.79,767.50 466.84,767.50 466.84,767.30 467.89,767.30 467.89,766.95 468.95,766.95 468.95,766.37 470.00,766.37 470.00,766.91" fill="#4b4b4b" stroke="#000" stroke-width="1.1" stroke-linejoin="round"/>
<polyline points="313.60,761.95 315.50,761.95 315.50,742.72 317.00,742.72 317.00,740.39 318.12,740.39 318.12,736.41 319.25,736.41 319.25,734.26 320.38,734.26 320.38,734.61 321.50,734.61 321.50,732.62 322.67,732.62 322.67,730.54 323.83,730.54 323.83,724.93 325.00,724.93 325.00,719.44 326.15,719.44 326.15,713.44 327.30,713.44 327.30,708.43 329.00,708.43 329.00,695.34 330.00,695.34 330.00,692.70 331.00,692.70 331.00,685.63 332.00,685.63 332.00,686.85 333.15,686.85 333.15,677.49 334.30,677.49 334.30,681.55 335.45,681.55 335.45,672.87 336.60,672.87 336.60,675.83 337.75,675.83 337.75,670.09 338.90,670.09 338.90,668.00 340.05,668.00 340.05,669.28 341.20,669.28 341.20,659.08 342.23,659.08 342.23,658.16 343.27,658.16 343.27,664.79 344.30,664.79 344.30,659.73 345.33,659.73 345.33,654.52 346.37,654.52 346.37,661.69 347.40,661.69 347.40,660.05 348.55,660.05 348.55,650.54 349.70,650.54 349.70,651.96 350.85,651.96 350.85,647.61 352.00,647.61 352.00,647.77 353.27,647.77 353.27,646.94 354.53,646.94 354.53,638.47 355.80,638.47 355.80,640.02 357.00,640.02 357.00,631.88 358.05,631.88 358.05,634.89 359.10,634.89 359.10,643.21 360.15,643.21 360.15,640.75 361.20,640.75 361.20,642.69 362.47,642.69 362.47,646.95 363.73,646.95 363.73,648.27 365.00,648.27 365.00,649.88 366.20,649.88 366.20,655.62 367.20,655.62 367.20,668.84 368.20,668.84 368.20,677.68 369.20,677.68 369.20,684.40 370.23,684.40 370.23,685.84 371.27,685.84 371.27,687.45 372.30,687.45 372.30,691.63 373.45,691.63 373.45,698.78 374.60,698.78 374.60,703.27 375.80,703.27 375.80,703.79 377.00,703.79 377.00,709.21 378.10,709.21 378.10,715.62 379.20,715.62 379.20,722.07 380.20,722.07 380.20,727.21 381.20,727.21 381.20,728.80 382.60,728.80 382.60,729.16 384.00,729.16 384.00,736.27 385.00,736.27 385.00,738.06 386.00,738.06 386.00,742.29 387.00,742.29 387.00,744.84 388.18,744.84 388.18,747.21 389.35,747.21 389.35,748.57 390.52,748.57 390.52,751.51 391.70,751.51 391.70,750.59 392.90,750.59 392.90,754.07 394.10,754.07 394.10,754.81 395.30,754.81 395.30,758.25 396.50,758.25 396.50,758.43 397.80,758.43 397.80,760.38 399.10,760.38 399.10,761.88 400.40,761.88 400.40,763.75 401.45,763.75 401.45,762.78 402.51,762.78 402.51,763.59 403.56,763.59 403.56,763.24 404.62,763.24 404.62,763.45 405.67,763.45 405.67,763.87 406.73,763.87 406.73,764.76 407.78,764.76 407.78,764.04 408.84,764.04 408.84,764.91 409.89,764.91 409.89,763.70 410.95,763.70 410.95,765.00 412.00,765.00 412.00,764.18 413.05,764.18 413.05,764.08 414.09,764.08 414.09,765.14 415.14,765.14 415.14,765.58 416.18,765.58 416.18,764.30 417.23,764.30 417.23,764.89 418.27,764.89 418.27,765.87 419.32,765.87 419.32,765.36 420.36,765.36 420.36,765.37 421.41,765.37 421.41,765.17 422.45,765.17 422.45,765.39 423.50,765.39 423.50,766.49 424.55,766.49 424.55,767.17 425.59,767.17 425.59,767.28 426.64,767.28 426.64,766.58 427.68,766.58 427.68,765.90 428.73,765.90 428.73,766.47 429.77,766.47 429.77,767.31 430.82,767.31 430.82,767.47 431.86,767.47 431.86,767.25 432.91,767.25 432.91,766.69 433.95,766.69 433.95,767.25 435.00,767.25 435.00,767.26" fill="none" stroke="#dadada" stroke-width="1.3" stroke-linejoin="round"/>
<rect x="313.50" y="594.50" width="197.00" height="173.00" fill="none" stroke="#7a7a7a" stroke-width="1"/>
<line x1="313.50" y1="767.50" x2="510.50" y2="767.50" stroke="#222" stroke-width="1.0"/>
<line x1="313.50" y1="594.50" x2="313.50" y2="767.50" stroke="#555" stroke-width="1.0"/>
<line x1="310.90" y1="767.50" x2="313.50" y2="767.50" stroke="#111" stroke-width="1.3"/>
<text transform="translate(307.70,772.70)" font-size="14.8" text-anchor="end" fill="#000" stroke="#000" stroke-width="0.15">0</text>
<line x1="312.30" y1="761.73" x2="313.50" y2="761.73" stroke="#333" stroke-width="1.0"/>
<line x1="312.30" y1="755.97" x2="313.50" y2="755.97" stroke="#333" stroke-width="1.0"/>
<line x1="312.30" y1="750.20" x2="313.50" y2="750.20" stroke="#333" stroke-width="1.0"/>
<line x1="312.30" y1="744.43" x2="313.50" y2="744.43" stroke="#333" stroke-width="1.0"/>
<line x1="310.90" y1="738.67" x2="313.50" y2="738.67" stroke="#111" stroke-width="1.3"/>
<text transform="translate(307.70,743.87)" font-size="14.8" text-anchor="end" fill="#000" stroke="#000" stroke-width="0.15">10</text>
<line x1="312.30" y1="732.90" x2="313.50" y2="732.90" stroke="#333" stroke-width="1.0"/>
<line x1="312.30" y1="727.13" x2="313.50" y2="727.13" stroke="#333" stroke-width="1.0"/>
<line x1="312.30" y1="721.37" x2="313.50" y2="721.37" stroke="#333" stroke-width="1.0"/>
<line x1="312.30" y1="715.60" x2="313.50" y2="715.60" stroke="#333" stroke-width="1.0"/>
<line x1="310.90" y1="709.83" x2="313.50" y2="709.83" stroke="#111" stroke-width="1.3"/>
<text transform="translate(307.70,715.03)" font-size="14.8" text-anchor="end" fill="#000" stroke="#000" stroke-width="0.15">20</text>
<line x1="312.30" y1="704.07" x2="313.50" y2="704.07" stroke="#333" stroke-width="1.0"/>
<line x1="312.30" y1="698.30" x2="313.50" y2="698.30" stroke="#333" stroke-width="1.0"/>
<line x1="312.30" y1="692.53" x2="313.50" y2="692.53" stroke="#333" stroke-width="1.0"/>
<line x1="312.30" y1="686.77" x2="313.50" y2="686.77" stroke="#333" stroke-width="1.0"/>
<line x1="310.90" y1="681.00" x2="313.50" y2="681.00" stroke="#111" stroke-width="1.3"/>
<text transform="translate(307.70,686.20)" font-size="14.8" text-anchor="end" fill="#000" stroke="#000" stroke-width="0.15">30</text>
<line x1="312.30" y1="675.23" x2="313.50" y2="675.23" stroke="#333" stroke-width="1.0"/>
<line x1="312.30" y1="669.47" x2="313.50" y2="669.47" stroke="#333" stroke-width="1.0"/>
<line x1="312.30" y1="663.70" x2="313.50" y2="663.70" stroke="#333" stroke-width="1.0"/>
<line x1="312.30" y1="657.93" x2="313.50" y2="657.93" stroke="#333" stroke-width="1.0"/>
<line x1="310.90" y1="652.17" x2="313.50" y2="652.17" stroke="#111" stroke-width="1.3"/>
<text transform="translate(307.70,657.37)" font-size="14.8" text-anchor="end" fill="#000" stroke="#000" stroke-width="0.15">40</text>
<line x1="312.30" y1="646.40" x2="313.50" y2="646.40" stroke="#333" stroke-width="1.0"/>
<line x1="312.30" y1="640.63" x2="313.50" y2="640.63" stroke="#333" stroke-width="1.0"/>
<line x1="312.30" y1="634.87" x2="313.50" y2="634.87" stroke="#333" stroke-width="1.0"/>
<line x1="312.30" y1="629.10" x2="313.50" y2="629.10" stroke="#333" stroke-width="1.0"/>
<line x1="310.90" y1="623.33" x2="313.50" y2="623.33" stroke="#111" stroke-width="1.3"/>
<text transform="translate(307.70,628.53)" font-size="14.8" text-anchor="end" fill="#000" stroke="#000" stroke-width="0.15">50</text>
<line x1="312.30" y1="617.57" x2="313.50" y2="617.57" stroke="#333" stroke-width="1.0"/>
<line x1="312.30" y1="611.80" x2="313.50" y2="611.80" stroke="#333" stroke-width="1.0"/>
<line x1="312.30" y1="606.03" x2="313.50" y2="606.03" stroke="#333" stroke-width="1.0"/>
<line x1="312.30" y1="600.27" x2="313.50" y2="600.27" stroke="#333" stroke-width="1.0"/>
<line x1="310.90" y1="594.50" x2="313.50" y2="594.50" stroke="#111" stroke-width="1.3"/>
<text transform="translate(307.70,599.70)" font-size="14.8" text-anchor="end" fill="#000" stroke="#000" stroke-width="0.15">60</text>
<line x1="313.50" y1="767.50" x2="313.50" y2="770.30" stroke="#111" stroke-width="1.2"/>
<text transform="translate(305.12,788.50)" font-size="14.8" text-anchor="start" fill="#000" stroke="#000" stroke-width="0.15">10</text>
<text transform="translate(321.64,784.30)" font-size="11.5" text-anchor="start" fill="#000" stroke="#000" stroke-width="0.15">0</text>
<line x1="328.33" y1="767.50" x2="328.33" y2="769.00" stroke="#333" stroke-width="1.0"/>
<line x1="337.00" y1="767.50" x2="337.00" y2="769.00" stroke="#333" stroke-width="1.0"/>
<line x1="343.15" y1="767.50" x2="343.15" y2="769.00" stroke="#333" stroke-width="1.0"/>
<line x1="347.92" y1="767.50" x2="347.92" y2="769.00" stroke="#333" stroke-width="1.0"/>
<line x1="351.82" y1="767.50" x2="351.82" y2="769.00" stroke="#333" stroke-width="1.0"/>
<line x1="355.12" y1="767.50" x2="355.12" y2="769.00" stroke="#333" stroke-width="1.0"/>
<line x1="357.98" y1="767.50" x2="357.98" y2="769.00" stroke="#333" stroke-width="1.0"/>
<line x1="360.50" y1="767.50" x2="360.50" y2="769.00" stroke="#333" stroke-width="1.0"/>
<line x1="362.75" y1="767.50" x2="362.75" y2="770.30" stroke="#111" stroke-width="1.2"/>
<text transform="translate(357.62,788.50)" font-size="14.8" text-anchor="start" fill="#000" stroke="#000" stroke-width="0.15">10</text>
<text transform="translate(373.68,784.30)" font-size="11.5" text-anchor="start" fill="#000" stroke="#000" stroke-width="0.15">1</text>
<line x1="377.58" y1="767.50" x2="377.58" y2="769.00" stroke="#333" stroke-width="1.0"/>
<line x1="386.25" y1="767.50" x2="386.25" y2="769.00" stroke="#333" stroke-width="1.0"/>
<line x1="392.40" y1="767.50" x2="392.40" y2="769.00" stroke="#333" stroke-width="1.0"/>
<line x1="397.17" y1="767.50" x2="397.17" y2="769.00" stroke="#333" stroke-width="1.0"/>
<line x1="401.07" y1="767.50" x2="401.07" y2="769.00" stroke="#333" stroke-width="1.0"/>
<line x1="404.37" y1="767.50" x2="404.37" y2="769.00" stroke="#333" stroke-width="1.0"/>
<line x1="407.23" y1="767.50" x2="407.23" y2="769.00" stroke="#333" stroke-width="1.0"/>
<line x1="409.75" y1="767.50" x2="409.75" y2="769.00" stroke="#333" stroke-width="1.0"/>
<line x1="412.00" y1="767.50" x2="412.00" y2="770.30" stroke="#111" stroke-width="1.2"/>
<text transform="translate(405.12,788.50)" font-size="14.8" text-anchor="start" fill="#000" stroke="#000" stroke-width="0.15">10</text>
<text transform="translate(421.53,784.30)" font-size="11.5" text-anchor="start" fill="#000" stroke="#000" stroke-width="0.15">2</text>
<line x1="426.83" y1="767.50" x2="426.83" y2="769.00" stroke="#333" stroke-width="1.0"/>
<line x1="435.50" y1="767.50" x2="435.50" y2="769.00" stroke="#333" stroke-width="1.0"/>
<line x1="441.65" y1="767.50" x2="441.65" y2="769.00" stroke="#333" stroke-width="1.0"/>
<line x1="446.42" y1="767.50" x2="446.42" y2="769.00" stroke="#333" stroke-width="1.0"/>
<line x1="450.32" y1="767.50" x2="450.32" y2="769.00" stroke="#333" stroke-width="1.0"/>
<line x1="453.62" y1="767.50" x2="453.62" y2="769.00" stroke="#333" stroke-width="1.0"/>
<line x1="456.48" y1="767.50" x2="456.48" y2="769.00" stroke="#333" stroke-width="1.0"/>
<line x1="459.00" y1="767.50" x2="459.00" y2="769.00" stroke="#333" stroke-width="1.0"/>
<line x1="461.25" y1="767.50" x2="461.25" y2="770.30" stroke="#111" stroke-width="1.2"/>
<text transform="translate(449.12,788.50)" font-size="14.8" text-anchor="start" fill="#000" stroke="#000" stroke-width="0.15">10</text>
<text transform="translate(465.64,784.30)" font-size="11.5" text-anchor="start" fill="#000" stroke="#000" stroke-width="0.15">3</text>
<line x1="476.08" y1="767.50" x2="476.08" y2="769.00" stroke="#333" stroke-width="1.0"/>
<line x1="484.75" y1="767.50" x2="484.75" y2="769.00" stroke="#333" stroke-width="1.0"/>
<line x1="490.90" y1="767.50" x2="490.90" y2="769.00" stroke="#333" stroke-width="1.0"/>
<line x1="495.67" y1="767.50" x2="495.67" y2="769.00" stroke="#333" stroke-width="1.0"/>
<line x1="499.57" y1="767.50" x2="499.57" y2="769.00" stroke="#333" stroke-width="1.0"/>
<line x1="502.87" y1="767.50" x2="502.87" y2="769.00" stroke="#333" stroke-width="1.0"/>
<line x1="505.73" y1="767.50" x2="505.73" y2="769.00" stroke="#333" stroke-width="1.0"/>
<line x1="508.25" y1="767.50" x2="508.25" y2="769.00" stroke="#333" stroke-width="1.0"/>
<line x1="510.50" y1="767.50" x2="510.50" y2="770.30" stroke="#111" stroke-width="1.2"/>
<text transform="translate(495.32,788.50)" font-size="14.8" text-anchor="start" fill="#000" stroke="#000" stroke-width="0.15">10</text>
<text transform="translate(512.07,784.30)" font-size="11.5" text-anchor="start" fill="#000" stroke="#000" stroke-width="0.15">4</text>
<text transform="translate(286.10,562.90) scale(0.94,1)" font-size="33.4" font-weight="bold" stroke="#000" stroke-width="0.4">F</text>
<text transform="translate(315.52,575.60)" font-size="14.8" text-anchor="start" fill="#000" stroke="#000" stroke-width="0.15">NB4/Flt3-ITD</text>
<text transform="translate(385.96,822.50)" font-size="14.8" text-anchor="start" fill="#000" stroke="#000" stroke-width="0.15">CD11b-PE</text>
<rect x="213.8" y="765.2" width="1.4" height="3" fill="#111"/>
</svg></body></html>
